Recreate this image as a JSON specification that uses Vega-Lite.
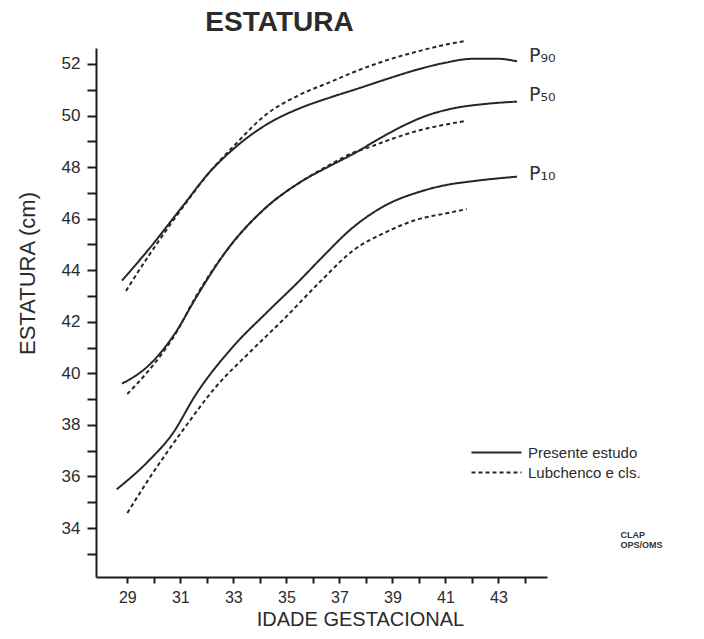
{
  "$schema": "https://vega.github.io/schema/vega-lite/v6.json",
  "autosize": {"type": "none"},
  "width": 451,
  "height": 529,
  "padding": {"left": 96, "top": 48, "right": 157, "bottom": 62},
  "background": "white",
  "config": {
    "view": {"stroke": null},
    "font": "Liberation Sans"
  },
  "title": {
    "text": "ESTATURA",
    "frame": "group",
    "font": "Liberation Sans",
    "fontSize": 28,
    "fontWeight": "bold",
    "color": "#2b2b2b",
    "anchor": "middle",
    "dx": -42,
    "offset": 0
  },
  "datasets": {
    "curvas": [
      {"fonte": "Presente estudo", "percentil": "P90", "idade": 28.8, "estatura": 43.6},
      {"fonte": "Presente estudo", "percentil": "P90", "idade": 29.8, "estatura": 44.8},
      {"fonte": "Presente estudo", "percentil": "P90", "idade": 31.1, "estatura": 46.5},
      {"fonte": "Presente estudo", "percentil": "P90", "idade": 32.1, "estatura": 47.8},
      {"fonte": "Presente estudo", "percentil": "P90", "idade": 33.0, "estatura": 48.7},
      {"fonte": "Presente estudo", "percentil": "P90", "idade": 34.25, "estatura": 49.65},
      {"fonte": "Presente estudo", "percentil": "P90", "idade": 35.5, "estatura": 50.28},
      {"fonte": "Presente estudo", "percentil": "P90", "idade": 36.65, "estatura": 50.7},
      {"fonte": "Presente estudo", "percentil": "P90", "idade": 37.8, "estatura": 51.08},
      {"fonte": "Presente estudo", "percentil": "P90", "idade": 38.8, "estatura": 51.42},
      {"fonte": "Presente estudo", "percentil": "P90", "idade": 40.0, "estatura": 51.8},
      {"fonte": "Presente estudo", "percentil": "P90", "idade": 41.0, "estatura": 52.05},
      {"fonte": "Presente estudo", "percentil": "P90", "idade": 42.0, "estatura": 52.2},
      {"fonte": "Presente estudo", "percentil": "P90", "idade": 43.0, "estatura": 52.2},
      {"fonte": "Presente estudo", "percentil": "P90", "idade": 43.7, "estatura": 52.1},

      {"fonte": "Lubchenco e cls.", "percentil": "P90", "idade": 28.95, "estatura": 43.2},
      {"fonte": "Lubchenco e cls.", "percentil": "P90", "idade": 29.8, "estatura": 44.55},
      {"fonte": "Lubchenco e cls.", "percentil": "P90", "idade": 31.1, "estatura": 46.45},
      {"fonte": "Lubchenco e cls.", "percentil": "P90", "idade": 32.1, "estatura": 47.8},
      {"fonte": "Lubchenco e cls.", "percentil": "P90", "idade": 33.0, "estatura": 48.8},
      {"fonte": "Lubchenco e cls.", "percentil": "P90", "idade": 34.25, "estatura": 50.05},
      {"fonte": "Lubchenco e cls.", "percentil": "P90", "idade": 35.5, "estatura": 50.8},
      {"fonte": "Lubchenco e cls.", "percentil": "P90", "idade": 36.65, "estatura": 51.3},
      {"fonte": "Lubchenco e cls.", "percentil": "P90", "idade": 37.7, "estatura": 51.75},
      {"fonte": "Lubchenco e cls.", "percentil": "P90", "idade": 38.8, "estatura": 52.15},
      {"fonte": "Lubchenco e cls.", "percentil": "P90", "idade": 40.0, "estatura": 52.5},
      {"fonte": "Lubchenco e cls.", "percentil": "P90", "idade": 41.0, "estatura": 52.75},
      {"fonte": "Lubchenco e cls.", "percentil": "P90", "idade": 41.8, "estatura": 52.9},

      {"fonte": "Presente estudo", "percentil": "P50", "idade": 28.8, "estatura": 39.6},
      {"fonte": "Presente estudo", "percentil": "P50", "idade": 29.8, "estatura": 40.3},
      {"fonte": "Presente estudo", "percentil": "P50", "idade": 30.8, "estatura": 41.55},
      {"fonte": "Presente estudo", "percentil": "P50", "idade": 31.6, "estatura": 42.95},
      {"fonte": "Presente estudo", "percentil": "P50", "idade": 32.7, "estatura": 44.7},
      {"fonte": "Presente estudo", "percentil": "P50", "idade": 34.25, "estatura": 46.45},
      {"fonte": "Presente estudo", "percentil": "P50", "idade": 35.5, "estatura": 47.4},
      {"fonte": "Presente estudo", "percentil": "P50", "idade": 36.65, "estatura": 48.05},
      {"fonte": "Presente estudo", "percentil": "P50", "idade": 37.5, "estatura": 48.5},
      {"fonte": "Presente estudo", "percentil": "P50", "idade": 38.5, "estatura": 49.1},
      {"fonte": "Presente estudo", "percentil": "P50", "idade": 39.4, "estatura": 49.6},
      {"fonte": "Presente estudo", "percentil": "P50", "idade": 40.3, "estatura": 50.0},
      {"fonte": "Presente estudo", "percentil": "P50", "idade": 41.3, "estatura": 50.28},
      {"fonte": "Presente estudo", "percentil": "P50", "idade": 42.5, "estatura": 50.45},
      {"fonte": "Presente estudo", "percentil": "P50", "idade": 43.7, "estatura": 50.54},

      {"fonte": "Lubchenco e cls.", "percentil": "P50", "idade": 29.0, "estatura": 39.2},
      {"fonte": "Lubchenco e cls.", "percentil": "P50", "idade": 29.8, "estatura": 40.1},
      {"fonte": "Lubchenco e cls.", "percentil": "P50", "idade": 30.8, "estatura": 41.5},
      {"fonte": "Lubchenco e cls.", "percentil": "P50", "idade": 31.6, "estatura": 43.0},
      {"fonte": "Lubchenco e cls.", "percentil": "P50", "idade": 32.7, "estatura": 44.7},
      {"fonte": "Lubchenco e cls.", "percentil": "P50", "idade": 34.25, "estatura": 46.45},
      {"fonte": "Lubchenco e cls.", "percentil": "P50", "idade": 35.5, "estatura": 47.4},
      {"fonte": "Lubchenco e cls.", "percentil": "P50", "idade": 36.65, "estatura": 48.1},
      {"fonte": "Lubchenco e cls.", "percentil": "P50", "idade": 37.5, "estatura": 48.55},
      {"fonte": "Lubchenco e cls.", "percentil": "P50", "idade": 38.2, "estatura": 48.8},
      {"fonte": "Lubchenco e cls.", "percentil": "P50", "idade": 39.0, "estatura": 49.1},
      {"fonte": "Lubchenco e cls.", "percentil": "P50", "idade": 40.1, "estatura": 49.45},
      {"fonte": "Lubchenco e cls.", "percentil": "P50", "idade": 41.0, "estatura": 49.65},
      {"fonte": "Lubchenco e cls.", "percentil": "P50", "idade": 41.8, "estatura": 49.8},

      {"fonte": "Presente estudo", "percentil": "P10", "idade": 28.6, "estatura": 35.5},
      {"fonte": "Presente estudo", "percentil": "P10", "idade": 29.8, "estatura": 36.6},
      {"fonte": "Presente estudo", "percentil": "P10", "idade": 30.7, "estatura": 37.65},
      {"fonte": "Presente estudo", "percentil": "P10", "idade": 31.6, "estatura": 39.2},
      {"fonte": "Presente estudo", "percentil": "P10", "idade": 33.0, "estatura": 41.05},
      {"fonte": "Presente estudo", "percentil": "P10", "idade": 34.25, "estatura": 42.35},
      {"fonte": "Presente estudo", "percentil": "P10", "idade": 35.5, "estatura": 43.6},
      {"fonte": "Presente estudo", "percentil": "P10", "idade": 36.3, "estatura": 44.45},
      {"fonte": "Presente estudo", "percentil": "P10", "idade": 37.5, "estatura": 45.65},
      {"fonte": "Presente estudo", "percentil": "P10", "idade": 38.8, "estatura": 46.55},
      {"fonte": "Presente estudo", "percentil": "P10", "idade": 40.05, "estatura": 47.05},
      {"fonte": "Presente estudo", "percentil": "P10", "idade": 41.0, "estatura": 47.3},
      {"fonte": "Presente estudo", "percentil": "P10", "idade": 42.0, "estatura": 47.45},
      {"fonte": "Presente estudo", "percentil": "P10", "idade": 43.7, "estatura": 47.63},

      {"fonte": "Lubchenco e cls.", "percentil": "P10", "idade": 29.0, "estatura": 34.58},
      {"fonte": "Lubchenco e cls.", "percentil": "P10", "idade": 29.8, "estatura": 35.88},
      {"fonte": "Lubchenco e cls.", "percentil": "P10", "idade": 31.1, "estatura": 37.8},
      {"fonte": "Lubchenco e cls.", "percentil": "P10", "idade": 32.36, "estatura": 39.5},
      {"fonte": "Lubchenco e cls.", "percentil": "P10", "idade": 33.6, "estatura": 40.8},
      {"fonte": "Lubchenco e cls.", "percentil": "P10", "idade": 34.9, "estatura": 42.1},
      {"fonte": "Lubchenco e cls.", "percentil": "P10", "idade": 36.27, "estatura": 43.55},
      {"fonte": "Lubchenco e cls.", "percentil": "P10", "idade": 37.5, "estatura": 44.75},
      {"fonte": "Lubchenco e cls.", "percentil": "P10", "idade": 38.8, "estatura": 45.5},
      {"fonte": "Lubchenco e cls.", "percentil": "P10", "idade": 40.05, "estatura": 46.0},
      {"fonte": "Lubchenco e cls.", "percentil": "P10", "idade": 41.0, "estatura": 46.2},
      {"fonte": "Lubchenco e cls.", "percentil": "P10", "idade": 41.8, "estatura": 46.37}
    ],
    "rotulos": [
      {"rotulo": "P₉₀", "idade": 44.15, "estatura": 52.3},
      {"rotulo": "P₅₀", "idade": 44.15, "estatura": 50.8},
      {"rotulo": "P₁₀", "idade": 44.15, "estatura": 47.75}
    ],
    "nota": [
      {"rotulo": "CLAP", "idade": 47.6, "estatura": 33.72},
      {"rotulo": "OPS/OMS", "idade": 47.6, "estatura": 33.33}
    ]
  },
  "layer": [
    {
      "data": {"name": "curvas"},
      "mark": {"type": "line", "interpolate": "monotone", "strokeWidth": 2, "color": "#262626"},
      "encoding": {
        "x": {
          "field": "idade", "type": "quantitative",
          "scale": {"domain": [27.82, 44.83], "nice": false, "zero": false},
          "axis": {
            "values": [29, 30, 31, 32, 33, 34, 35, 36, 37, 38, 39, 40, 41, 42, 43, 44],
            "tickCount": 40,
            "format": "d",
            "labelExpr": "datum.value % 2 == 1 ? datum.label : ''",
            "labelOverlap": false,
            "grid": false,
            "domainColor": "#1a1a1a", "domainWidth": 2,
            "tickColor": "#1a1a1a", "tickWidth": 2, "tickSize": 6,
            "labelFont": "Liberation Sans", "labelFontSize": 16, "labelColor": "#2b2b2b",
            "labelPadding": 6, "labelFlush": false,
            "title": "IDADE GESTACIONAL",
            "titleFont": "Liberation Sans", "titleFontSize": 20, "titleFontWeight": "normal",
            "titleColor": "#2b2b2b", "titleX": 264, "titlePadding": 4
          }
        },
        "y": {
          "field": "estatura", "type": "quantitative",
          "scale": {"domain": [32.1, 52.62], "nice": false, "zero": false},
          "axis": {
            "values": [33, 34, 35, 36, 37, 38, 39, 40, 41, 42, 43, 44, 45, 46, 47, 48, 49, 50, 51, 52],
            "tickCount": 40,
            "format": "d",
            "labelExpr": "datum.value % 2 == 0 ? datum.label : ''",
            "labelOverlap": false,
            "grid": false,
            "domainColor": "#1a1a1a", "domainWidth": 2,
            "tickColor": "#1a1a1a", "tickWidth": 2, "tickSize": 9,
            "labelFont": "Liberation Sans", "labelFontSize": 17, "labelColor": "#2b2b2b",
            "labelPadding": 7,
            "title": "ESTATURA (cm)",
            "titleFont": "Liberation Sans", "titleFontSize": 22, "titleFontWeight": "normal",
            "titleColor": "#2b2b2b", "titleX": -69, "titleY": 225, "titleBaseline": "middle", "titleAlign": "center"
          }
        },
        "detail": {"field": "percentil"},
        "strokeDash": {
          "field": "fonte", "type": "nominal",
          "scale": {"domain": ["Presente estudo", "Lubchenco e cls."], "range": [[1, 0], [4, 3]]},
          "legend": {
            "orient": "none", "legendX": 393, "legendY": 397,
            "title": null,
            "symbolType": "M-5,0H5", "symbolSize": 100, "symbolStrokeWidth": 2,
            "symbolStrokeColor": "#262626",
            "labelFont": "Liberation Sans", "labelFontSize": 15, "labelColor": "#2b2b2b",
            "labelOffset": 24, "rowPadding": 4
          }
        }
      }
    },
    {
      "data": {"name": "rotulos"},
      "mark": {"type": "text", "align": "left", "baseline": "middle", "font": "DejaVu Sans", "fontSize": 19, "color": "#333333"},
      "encoding": {
        "x": {"field": "idade", "type": "quantitative"},
        "y": {"field": "estatura", "type": "quantitative"},
        "text": {"field": "rotulo"}
      }
    },
    {
      "data": {"name": "nota"},
      "mark": {"type": "text", "align": "left", "baseline": "middle", "font": "Liberation Sans", "fontSize": 9, "fontWeight": "bold", "color": "#333333"},
      "encoding": {
        "x": {"field": "idade", "type": "quantitative"},
        "y": {"field": "estatura", "type": "quantitative"},
        "text": {"field": "rotulo"}
      }
    }
  ]
}
